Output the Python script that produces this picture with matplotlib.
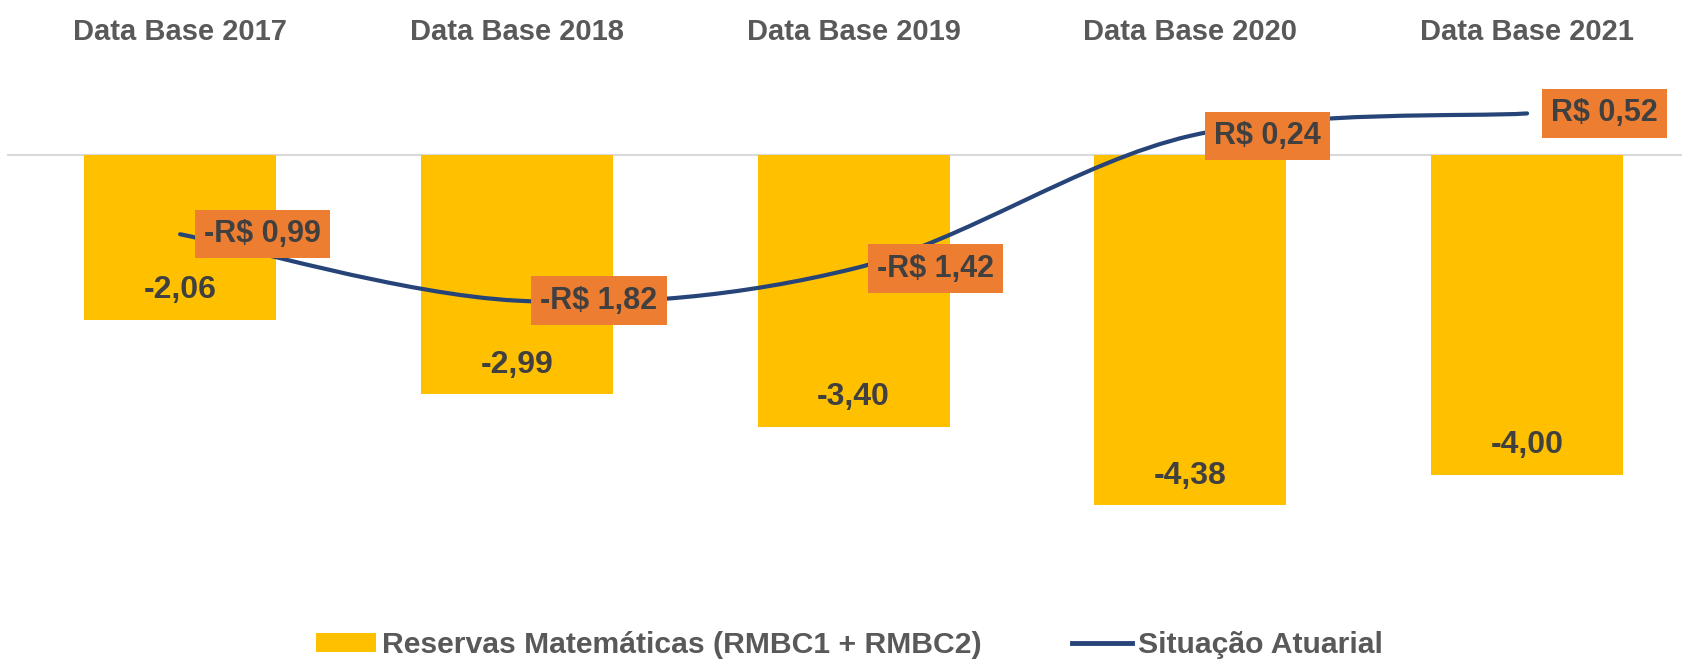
import matplotlib
matplotlib.use("Agg")
import matplotlib.pyplot as plt
import numpy as np
from matplotlib.path import Path
from matplotlib.patches import PathPatch, Patch
from matplotlib.lines import Line2D

categorias = ["Data Base 2017", "Data Base 2018", "Data Base 2019", "Data Base 2020", "Data Base 2021"]
reservas = [-2.06, -2.99, -3.40, -4.38, -4.00]
situacao = [-0.99, -1.82, -1.42, 0.24, 0.52]
rotulos_reservas = ["-2,06", "-2,99", "-3,40", "-4,38", "-4,00"]
rotulos_situacao = ["-R$ 0,99", "-R$ 1,82", "-R$ 1,42", "R$ 0,24", "R$ 0,52"]

plt.rcParams['font.family'] = ['Liberation Sans', 'DejaVu Sans']
plt.rcParams['font.weight'] = 'bold'

fig = plt.figure(figsize=(16.82, 6.61), dpi=100)
ax = fig.add_axes([0.00416, 0.1603, 0.99584, 0.7262])

x = np.arange(len(categorias))

ax.axhline(0, color="#D9D9D9", lw=1.5, zorder=1)
ax.bar(x, reservas, width=0.57, color="#FFC000", zorder=2)

for xi, v, t in zip(x, reservas, rotulos_reservas):
    ax.text(xi, v + 0.37, t, ha="center", va="center", fontsize=23,
            fontweight="bold", color="#404040", zorder=4)

# smoothed line (Excel style) drawn as bezier path through the data points
pts = np.column_stack([x, situacao]).astype(float)
verts = [pts[0]]
codes = [Path.MOVETO]
n = len(pts)
for i in range(n - 1):
    p0 = pts[i - 1] if i > 0 else pts[i]
    p1 = pts[i]
    p2 = pts[i + 1]
    p3 = pts[i + 2] if i + 2 < n else pts[i + 1]
    verts += [p1 + (p2 - p0) / 6, p2 - (p3 - p1) / 6, p2]
    codes += [Path.CURVE4] * 3
ax.add_patch(PathPatch(Path(verts, codes), facecolor="none", edgecolor="#264478",
                       lw=3, capstyle="round", zorder=3))

for xi, v, t in zip(x, situacao, rotulos_situacao):
    ax.annotate(t, (xi, v), xytext=(17, 0), textcoords="offset points",
                ha="left", va="center", fontsize=22, fontweight="bold", color="#404040",
                bbox=dict(boxstyle="square,pad=0.3", facecolor="#ED7D31", edgecolor="none"),
                zorder=5)

ax.set_xlim(-0.514, 4.460)
ax.set_ylim(-5, 1)
ax.set_xticks(x)
ax.set_xticklabels(categorias, fontsize=21, fontweight="bold", color="#595959")
ax.xaxis.set_ticks_position("top")
ax.tick_params(axis="x", length=0, pad=21)
ax.set_yticks([])
for s in ax.spines.values():
    s.set_visible(False)

handles = [Patch(facecolor="#FFC000", edgecolor="none"),
           Line2D([0], [0], color="#264478", lw=3.5)]
fig.legend(handles, ["Reservas Matemáticas (RMBC1 + RMBC2)", "Situação Atuarial"],
           loc="center", bbox_to_anchor=(0.505, 1 - 645 / 661), ncol=2, frameon=False,
           prop={"size": 21.7, "weight": "bold"}, labelcolor="#595959",
           handlelength=2.0, handleheight=0.62, handletextpad=0.2, columnspacing=3.0)

fig.savefig("out.png", dpi=100)
plt.close(fig)
